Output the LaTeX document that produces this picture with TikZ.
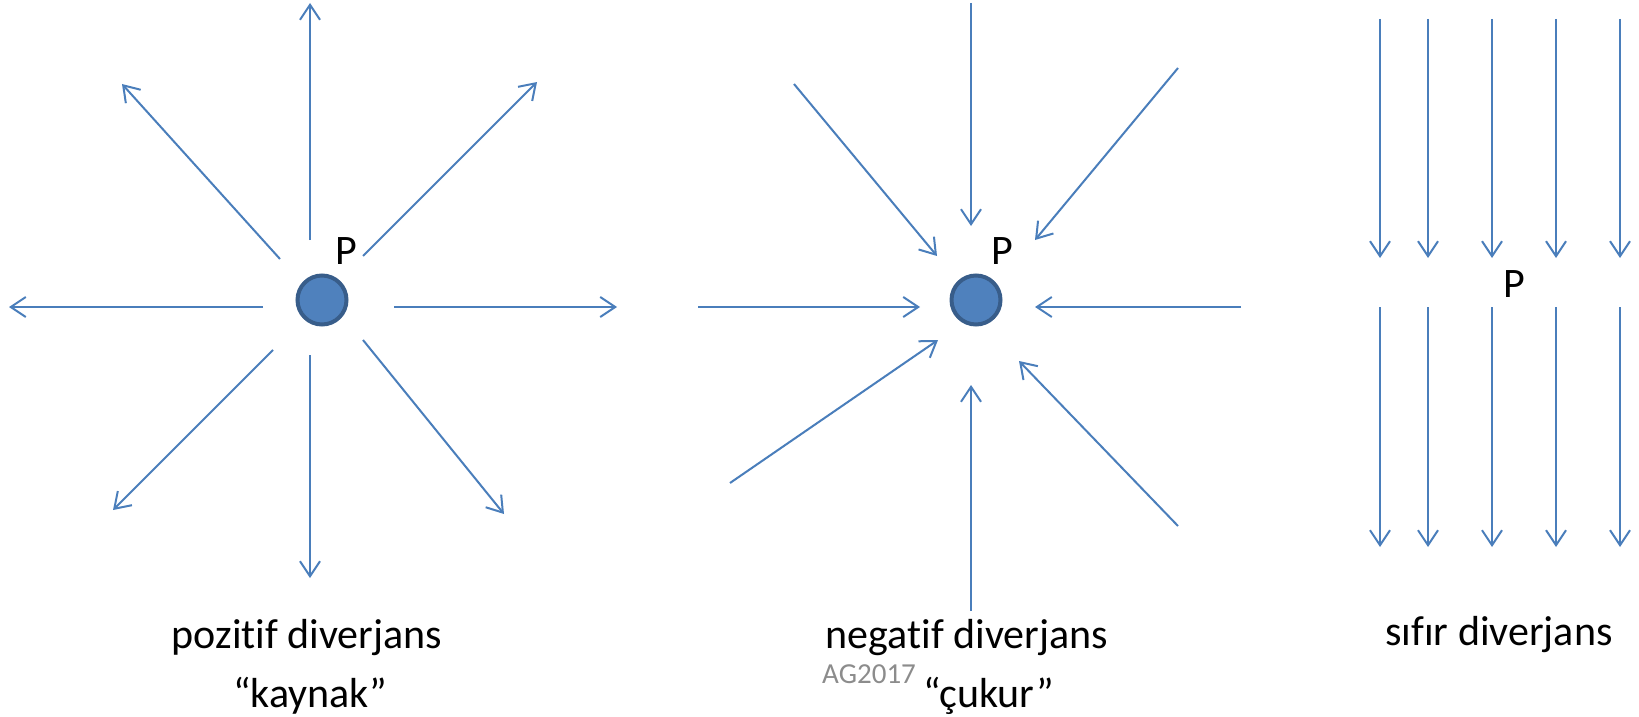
\documentclass[tikz,border=0pt]{standalone}
\usepackage{fontspec}
\setmainfont{Carlito}[Ligatures=NoCommon]
\usetikzlibrary{arrows.meta}
\definecolor{fieldblue}{HTML}{4A7EBB}
\definecolor{dotfill}{HTML}{4F81BD}
\definecolor{dotline}{HTML}{385D8A}
\definecolor{markgray}{HTML}{8C8C8C}
\tikzset{
  field/.style={draw=fieldblue, line width=2pt, -{Straight Barb[length=15pt,width=20pt,line width=2pt]}},
  dot/.style={circle, fill=dotfill, draw=dotline, line width=4pt, minimum size=49pt, inner sep=0pt},
  lbl/.style={font=\fontsize{42}{50}\selectfont, inner sep=0pt, anchor=base},
  signature/.style={font=\fontsize{29}{34}\selectfont, text=markgray, inner sep=0pt, anchor=base west}
}
\begin{document}
\begin{tikzpicture}[x=1pt, y=-1pt]
\useasboundingbox (0,0) rectangle (1639,717);

% source: field lines leave P
\node[dot] (srcP) at (322,300) {};
\node[lbl, anchor=base west] (srcPl) at (335,264) {P};
\draw[field] (310,240) -- (310,3);
\draw[field] (310,355) -- (310,578);
\draw[field] (263,307) -- (9,307);
\draw[field] (394,307) -- (617,307);
\draw[field] (280,259) -- (122,84);
\draw[field] (363,256) -- (537,82);
\draw[field] (273,350) -- (113,510);
\draw[field] (363,340) -- (504,514);
\node[lbl] (srcA) at (307,648) {pozitif diverjans};
\node[lbl] (srcB) at (310,707) {“kaynak”};

% sink: field lines enter P
\node[dot] (snkP) at (976,300) {};
\node[lbl, anchor=base west] (snkPl) at (991,264) {P};
\draw[field] (971,3) -- (971,226);
\draw[field] (971,611) -- (971,385);
\draw[field] (698,307) -- (920,307);
\draw[field] (1241,307) -- (1035,307);
\draw[field] (794,84) -- (937,256);
\draw[field] (1178,68) -- (1035,240);
\draw[field] (730,483) -- (938,340);
\draw[field] (1178,526) -- (1019,361);
\node[lbl] (snkA) at (967,648) {negatif diverjans};
\node[lbl] (snkB) at (989,707) {“çukur”};
\node[signature] (sig) at (822,683) {AG2017};

% zero divergence: uniform parallel flow
\foreach \x in {1380,1428,1492,1556,1620}{
  \draw[field] (\x,19) -- (\x,258);
  \draw[field] (\x,307) -- (\x,547);
}
\node[lbl, anchor=base west] (zeroPl) at (1503,297) {P};
\node[lbl] (zeroA) at (1499,645) {sıfır diverjans};
\end{tikzpicture}
\end{document}
